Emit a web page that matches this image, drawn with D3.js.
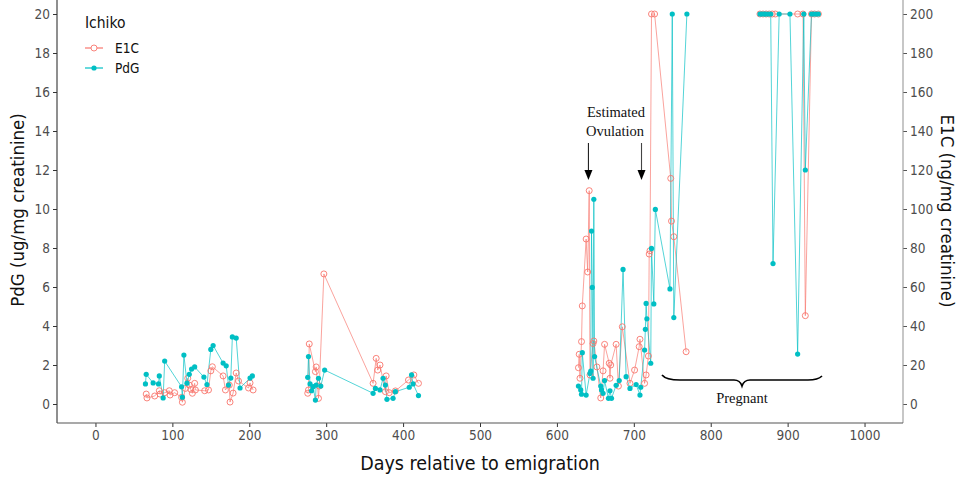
<!DOCTYPE html>
<html>
<head>
<meta charset="utf-8">
<script src="https://cdn.jsdelivr.net/npm/d3@7"></script>
<style>
  html, body { margin: 0; padding: 0; background: #fff; }
  svg { display: block; }
  .tick text { font-family: "DejaVu Sans", sans-serif; font-stretch: condensed; font-size: 13.5px; fill: #4d4d4d; }
</style>
</head>
<body>
<svg id="chart" width="961" height="495"></svg>
<script>
// PdG (ug/mg creatinine) by day relative to emigration
const pdgDays = [65, 66, 75, 82, 83, 88, 90, 112, 113, 115, 119, 122, 125, 129, 141, 145, 150, 153, 166, 170, 173, 176, 178, 183, 188, 201, 204,
  276, 277, 279, 281, 283, 286, 287, 290, 293, 298, 361, 364, 370, 374, 377, 379, 387, 390, 408, 411, 413, 420,
  628, 631, 632, 633, 638, 643, 644, 645, 646, 647, 648, 649, 657, 658, 660, 662, 667, 669, 671, 677, 681, 686, 690, 695, 703, 708, 709,
  714, 715, 716, 717, 722, 723, 726, 728, 747, 750, 752, 769,
  864, 866, 868, 870, 872, 875, 878, 881, 889, 903, 913, 921, 923, 931, 934, 937, 940];
const pdgValues = [1.03, 1.52, 1.08, 1.03, 1.44, 0.31, 2.2, 0.88, 0.35, 2.51, 1.07, 1.52, 1.79, 1.9, 1.38, 1.0, 2.8, 3.0, 2.1, 1.96, 0.97, 1.33, 3.44, 3.38, 0.82, 1.33, 1.44,
  1.37, 2.43, 1.03, 0.68, 0.89, 0.2, 0.97, 1.32, 0.92, 1.74, 0.55, 0.8, 0.72, 1.32, 0.97, 0.24, 0.29, 0.63, 0.86, 1.49, 1.03, 0.43,
  0.92, 0.72, 0.5, 2.63, 0.46, 1.57, 1.69, 8.87, 5.98, 1.32, 10.5, 2.43, 0.92, 0.72, 0.55, 1.2, 0.29, 0.68, 0.29, 0.96, 1.2, 6.9, 1.4, 0.8, 1.0, 0.46, 0.86,
  2.77, 3.83, 5.16, 4.37, 2.09, 7.98, 5.13, 9.98, 5.9, 20, 4.43, 20,
  20, 20, 20, 20, 20, 20, 20, 7.2, 20, 20, 2.56, 20, 12.0, 20, 20, 20, 20];

// E1C (ng/mg creatinine) by day relative to emigration
const e1cDays = [66, 67, 77, 83, 84, 90, 96, 97, 103, 112, 113, 117, 120, 122, 124, 126, 129, 130, 142, 147, 150, 152, 166, 169, 174, 175, 179, 183, 186, 199, 201, 205,
  276, 277, 278, 286, 287, 290, 291, 297, 361, 365, 367, 370, 377, 378, 382, 390, 407, 414, 420,
  628, 629, 630, 632, 633, 638, 640, 642, 643, 647, 648, 652, 657, 660, 662, 668, 669, 670, 677, 680, 685, 695, 701, 707, 708, 714, 716, 719, 720, 721,
  723, 727, 748, 749, 752, 768,
  864, 868, 872, 876, 880, 884, 913, 920, 923, 931, 935, 940];
const e1cValues = [5.1, 3.1, 4.1, 6.8, 5.1, 5.8, 6.8, 4.6, 5.8, 3.4, 0.9, 8, 13.2, 9.7, 7.5, 5.5, 10.6, 7.2, 6.8, 7.2, 17, 19.1, 14.4, 7.2, 9.7, 1.0, 5.6, 15.9, 11.8, 8.2, 10.8, 7.2,
  5.5, 7.2, 30.8, 16.6, 19, 2.9, 9.2, 66.7, 10.6, 23.4, 17.4, 20, 6.3, 14.4, 5.8, 6.7, 12.3, 14.9, 10.6,
  18.6, 25.5, 13.2, 32, 50.3, 84.6, 67.7, 109.4, 14.9, 31, 32.3, 19, 3.1, 17, 30.6, 20.9, 13.2, 20, 30.6, 9.2, 39.6, 10.6, 17.4, 29.4, 33.2, 10.6, 14.9, 24.6, 76.9, 78.6,
  200, 200, 115.7, 93.8, 85.8, 26.8,
  200, 200, 200, 200, 200, 200, 200, 200, 45.3, 200, 200, 200];

const xTicks = [0, 100, 200, 300, 400, 500, 600, 700, 800, 900, 1000];
const pdgTicks = [0, 2, 4, 6, 8, 10, 12, 14, 16, 18, 20];
const e1cTicks = [0, 20, 40, 60, 80, 100, 120, 140, 160, 180, 200];

const seriesNames = ["E1C", "PdG"];
const seriesColors = ["#F8766D", "#00BFC4"];

const svg = d3.select("#chart");

const left = 57, right = 903, bottom = 423;
const x = d3.scaleLinear().domain([-50, 1050]).range([left, right]);
const yL = d3.scaleLinear().domain([0, 20]).range([404, 14]);
const yR = d3.scaleLinear().domain([0, 200]).range([404, 14]);

// axes
const gx = svg.append("g").attr("transform", `translate(0,${bottom})`)
  .call(d3.axisBottom(x).tickValues(xTicks).tickFormat(d3.format("d")).tickSize(4).tickPadding(3).tickSizeOuter(0));
gx.select(".domain").remove();
gx.selectAll(".tick line").attr("stroke", "#333");

const gl = svg.append("g").attr("transform", `translate(${left},0)`)
  .call(d3.axisLeft(yL).tickValues(pdgTicks).tickSize(4).tickPadding(3).tickSizeOuter(0));
gl.select(".domain").remove();
gl.selectAll(".tick line").attr("stroke", "#333");

const gr = svg.append("g").attr("transform", `translate(${right},0)`)
  .call(d3.axisRight(yR).tickValues(e1cTicks).tickSize(4).tickPadding(3).tickSizeOuter(0));
gr.select(".domain").remove();
gr.selectAll(".tick line").attr("stroke", "#555");

svg.append("line").attr("x1", left).attr("x2", left).attr("y1", 0).attr("y2", bottom)
  .attr("stroke", "#333").attr("stroke-width", 1.1);
svg.append("line").attr("x1", right).attr("x2", right).attr("y1", 0).attr("y2", bottom)
  .attr("stroke", "#999").attr("stroke-width", 1.1);
svg.append("line").attr("x1", left).attr("x2", right).attr("y1", bottom).attr("y2", bottom)
  .attr("stroke", "#555").attr("stroke-width", 1.1);

// axis titles
const titleFont = "DejaVu Sans, sans-serif";
svg.append("text").attr("x", 480).attr("y", 470).attr("text-anchor", "middle")
  .style("font-family", titleFont).style("font-stretch", "condensed")
  .style("font-size", "19.5px").attr("fill", "#111").text("Days relative to emigration");
svg.append("text").attr("transform", "translate(24,210) rotate(-90)").attr("text-anchor", "middle")
  .style("font-family", titleFont).style("font-stretch", "condensed")
  .style("font-size", "18.5px").attr("fill", "#111").text("PdG (ug/mg creatinine)");
svg.append("text").attr("transform", "translate(941,211) rotate(90)").attr("text-anchor", "middle")
  .style("font-family", titleFont).style("font-stretch", "condensed")
  .style("font-size", "18.5px").attr("fill", "#111").text("E1C (ng/mg creatinine)");

// build point records and break lines at long sampling gaps
function records(days, values, scale) {
  return days.map((d, i) => ({ day: d, v: values[i], px: x(d), py: scale(values[i]) }));
}
function segments(recs) {
  const segs = [];
  let cur = [];
  recs.forEach((r, i) => {
    if (i > 0 && r.day - recs[i - 1].day > 70) { segs.push(cur); cur = []; }
    cur.push(r);
  });
  segs.push(cur);
  return segs;
}
const e1c = records(e1cDays, e1cValues, yR);
const pdg = records(pdgDays, pdgValues, yL);

const line = d3.line().x(d => d.px).y(d => d.py);
const plot = svg.append("g");

[e1c, pdg].forEach((recs, k) => {
  plot.append("g").selectAll("path").data(segments(recs)).join("path")
    .attr("d", line).attr("fill", "none")
    .attr("stroke", seriesColors[k]).attr("stroke-width", 0.85).attr("stroke-opacity", 0.8);
});

plot.append("g").selectAll("circle").data(e1c).join("circle")
  .attr("cx", d => d.px).attr("cy", d => d.py).attr("r", 3)
  .attr("fill", "none").attr("stroke", seriesColors[0]).attr("stroke-width", 0.9);
plot.append("g").selectAll("circle").data(pdg).join("circle")
  .attr("cx", d => d.px).attr("cy", d => d.py).attr("r", 2.6)
  .attr("fill", seriesColors[1]);

// annotations
const serif = "Liberation Serif, Times New Roman, serif";
svg.append("text").attr("x", 616).attr("y", 117).attr("text-anchor", "middle")
  .style("font-family", serif).style("font-size", "14.5px").attr("fill", "#111").text("Estimated");
svg.append("text").attr("x", 615).attr("y", 136).attr("text-anchor", "middle")
  .style("font-family", serif).style("font-size", "14.5px").attr("fill", "#111").text("Ovulation");

[[x(641), "#222"], [x(710), "#444"]].forEach(([ax, col]) => {
  svg.append("line").attr("x1", ax).attr("x2", ax).attr("y1", 143).attr("y2", 172)
    .attr("stroke", col).attr("stroke-width", 1.1);
  svg.append("path").attr("d", `M${ax - 4},${170} L${ax + 4},${170} L${ax},${180} Z`).attr("fill", "#000");
});

svg.append("path")
  .attr("d", "M662,375 Q666,380 680,380 L734,380 Q740,380 742,386 Q744,380 750,380 L808,380 Q818,380 822,376")
  .attr("fill", "none").attr("stroke", "#000").attr("stroke-width", 1.7);
svg.append("text").attr("x", 742).attr("y", 403).attr("text-anchor", "middle")
  .style("font-family", serif).style("font-size", "14.5px").attr("fill", "#111").text("Pregnant");

// legend
const lg = svg.append("g").style("font-family", titleFont).style("font-stretch", "condensed");
lg.append("text").attr("x", 85).attr("y", 28).style("font-size", "15.5px").attr("fill", "#111").text("Ichiko");
seriesNames.forEach((name, i) => {
  const yy = 48 + i * 20;
  lg.append("line").attr("x1", 85).attr("x2", 103).attr("y1", yy).attr("y2", yy)
    .attr("stroke", seriesColors[i]).attr("stroke-width", 1.2);
  if (i === 0) {
    lg.append("circle").attr("cx", 94).attr("cy", yy).attr("r", 3)
      .attr("fill", "#fff").attr("stroke", seriesColors[i]).attr("stroke-width", 0.9);
  } else {
    lg.append("circle").attr("cx", 94).attr("cy", yy).attr("r", 2.6).attr("fill", seriesColors[i]);
  }
  lg.append("text").attr("x", 115).attr("y", yy + 4.5).style("font-size", "13.5px").attr("fill", "#111").text(name);
});
</script>
</body>
</html>
